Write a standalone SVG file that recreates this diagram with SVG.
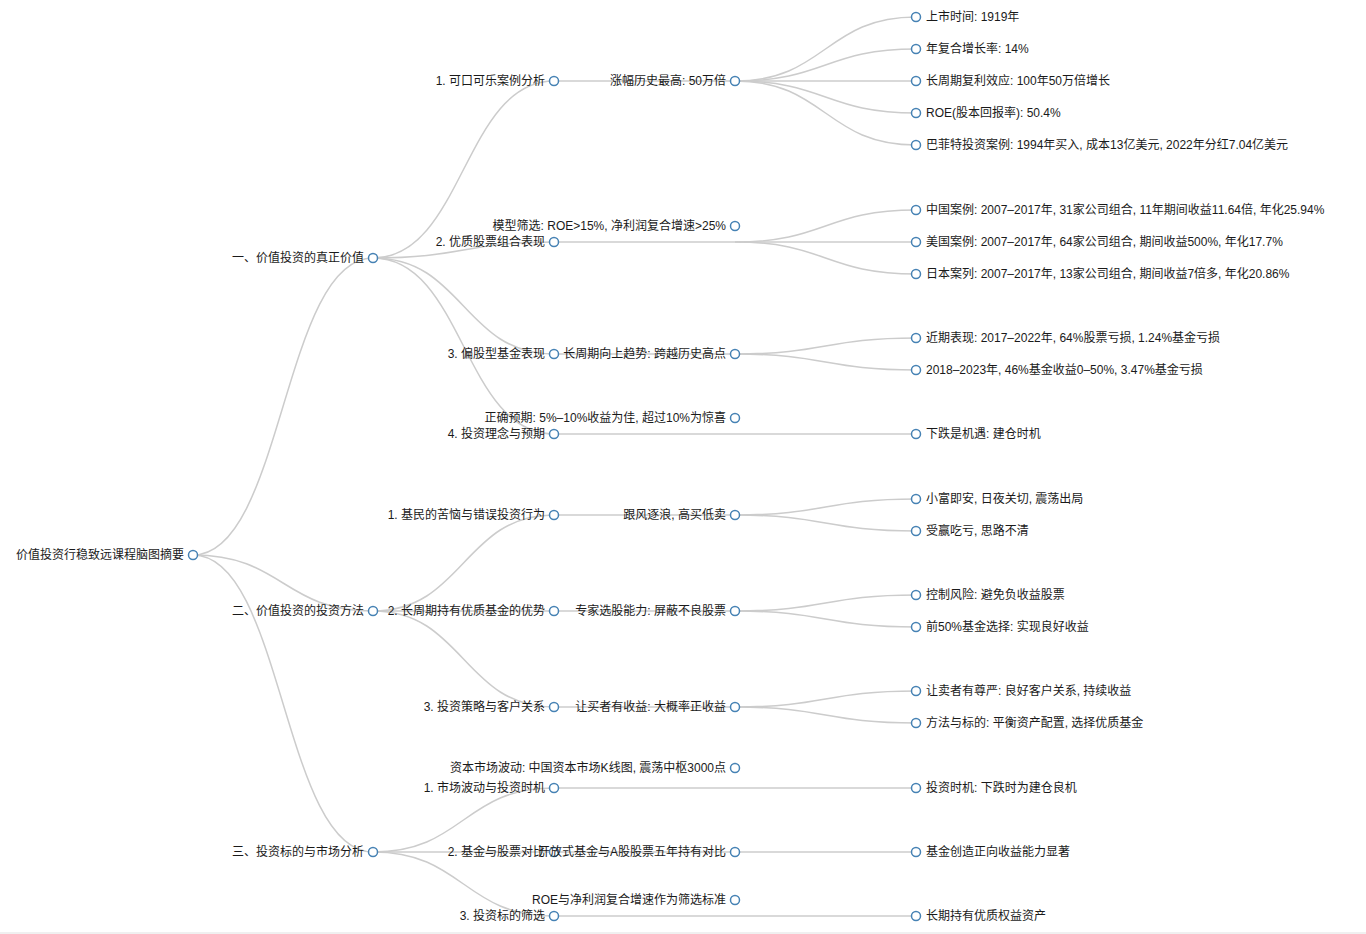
<svg xmlns="http://www.w3.org/2000/svg" width="1366" height="934" viewBox="0 0 1366 934">
<style>
.link{fill:none;stroke:#cccccc;stroke-width:1.5}
.node circle{fill:#ffffff;stroke:#4682b4;stroke-width:1.5}
.node text{font-family:"Liberation Sans","Noto Sans CJK SC",sans-serif;font-size:12px;fill:#1a1a1a}
.l{text-anchor:end}
.r{text-anchor:start}
</style>
<rect x="0" y="0" width="1366" height="934" fill="#ffffff"/>
<rect x="0" y="932" width="1366" height="2" fill="#f0f0f0"/>
<g id="links">
<path class="link" d="M193,555C283,555 283,258 373,258"/>
<path class="link" d="M193,555C283,555 283,611 373,611"/>
<path class="link" d="M193,555C283,555 283,852 373,852"/>
<path class="link" d="M373,258C463.5,258 463.5,81 554,81"/>
<path class="link" d="M373,258C463.5,258 463.5,242 554,242"/>
<path class="link" d="M373,258C463.5,258 463.5,354 554,354"/>
<path class="link" d="M373,258C463.5,258 463.5,434 554,434"/>
<path class="link" d="M373,611C463.5,611 463.5,515 554,515"/>
<path class="link" d="M373,611C463.5,611 463.5,611 554,611"/>
<path class="link" d="M373,611C463.5,611 463.5,707 554,707"/>
<path class="link" d="M373,852C463.5,852 463.5,788 554,788"/>
<path class="link" d="M373,852C463.5,852 463.5,852 554,852"/>
<path class="link" d="M373,852C463.5,852 463.5,916 554,916"/>
<path class="link" d="M554,81H735"/>
<path class="link" d="M554,242H735"/>
<path class="link" d="M554,354H735"/>
<path class="link" d="M554,434H735"/>
<path class="link" d="M554,515H735"/>
<path class="link" d="M554,611H735"/>
<path class="link" d="M554,707H735"/>
<path class="link" d="M554,788H735"/>
<path class="link" d="M554,852H735"/>
<path class="link" d="M554,916H735"/>
<path class="link" d="M735,81C825.5,81 825.5,17 916,17"/>
<path class="link" d="M735,81C825.5,81 825.5,49 916,49"/>
<path class="link" d="M735,81C825.5,81 825.5,81 916,81"/>
<path class="link" d="M735,81C825.5,81 825.5,113 916,113"/>
<path class="link" d="M735,81C825.5,81 825.5,145 916,145"/>
<path class="link" d="M735,242C825.5,242 825.5,210 916,210"/>
<path class="link" d="M735,242C825.5,242 825.5,242 916,242"/>
<path class="link" d="M735,242C825.5,242 825.5,274 916,274"/>
<path class="link" d="M735,354C825.5,354 825.5,338 916,338"/>
<path class="link" d="M735,354C825.5,354 825.5,370 916,370"/>
<path class="link" d="M735,434H916"/>
<path class="link" d="M735,515C825.5,515 825.5,499 916,499"/>
<path class="link" d="M735,515C825.5,515 825.5,531 916,531"/>
<path class="link" d="M735,611C825.5,611 825.5,595 916,595"/>
<path class="link" d="M735,611C825.5,611 825.5,627 916,627"/>
<path class="link" d="M735,707C825.5,707 825.5,691 916,691"/>
<path class="link" d="M735,707C825.5,707 825.5,723 916,723"/>
<path class="link" d="M735,788H916"/>
<path class="link" d="M735,852H916"/>
<path class="link" d="M735,916H916"/>
</g>
<g id="n-root" class="node"><circle cx="193" cy="555" r="4.5"/><text class="l" x="184" y="559">价值投资行稳致远课程脑图摘要</text></g>
<g id="n-1" class="node"><circle cx="373" cy="258" r="4.5"/><text class="l" x="364" y="262">一、价值投资的真正价值</text></g>
<g id="n-2" class="node"><circle cx="373" cy="611" r="4.5"/><text class="l" x="364" y="615">二、价值投资的投资方法</text></g>
<g id="n-3" class="node"><circle cx="373" cy="852" r="4.5"/><text class="l" x="364" y="856">三、投资标的与市场分析</text></g>
<g id="n-1-1" class="node"><circle cx="554" cy="81" r="4.5"/><text class="l" x="545" y="85">1. 可口可乐案例分析</text></g>
<g id="n-1-2" class="node"><circle cx="554" cy="242" r="4.5"/><text class="l" x="545" y="246">2. 优质股票组合表现</text></g>
<g id="n-1-3" class="node"><circle cx="554" cy="354" r="4.5"/><text class="l" x="545" y="358">3. 偏股型基金表现</text></g>
<g id="n-1-4" class="node"><circle cx="554" cy="434" r="4.5"/><text class="l" x="545" y="438">4. 投资理念与预期</text></g>
<g id="n-2-1" class="node"><circle cx="554" cy="515" r="4.5"/><text class="l" x="545" y="519">1. 基民的苦恼与错误投资行为</text></g>
<g id="n-2-2" class="node"><circle cx="554" cy="611" r="4.5"/><text class="l" x="545" y="615">2. 长周期持有优质基金的优势</text></g>
<g id="n-2-3" class="node"><circle cx="554" cy="707" r="4.5"/><text class="l" x="545" y="711">3. 投资策略与客户关系</text></g>
<g id="n-3-1" class="node"><circle cx="554" cy="788" r="4.5"/><text class="l" x="545" y="792">1. 市场波动与投资时机</text></g>
<g id="n-3-2" class="node"><circle cx="554" cy="852" r="4.5"/><text class="l" x="545" y="856">2. 基金与股票对比</text></g>
<g id="n-3-3" class="node"><circle cx="554" cy="916" r="4.5"/><text class="l" x="545" y="920">3. 投资标的筛选</text></g>
<g id="n-1-1-1" class="node"><circle cx="735" cy="81" r="4.5"/><text class="l" x="726" y="85">涨幅历史最高: 50万倍</text></g>
<g id="n-1-2-1" class="node"><circle cx="735" cy="226" r="4.5"/><text class="l" x="726" y="230">模型筛选: ROE&gt;15%, 净利润复合增速&gt;25%</text></g>
<g id="n-1-3-1" class="node"><circle cx="735" cy="354" r="4.5"/><text class="l" x="726" y="358">长周期向上趋势: 跨越历史高点</text></g>
<g id="n-1-4-1" class="node"><circle cx="735" cy="418" r="4.5"/><text class="l" x="726" y="422">正确预期: 5%–10%收益为佳, 超过10%为惊喜</text></g>
<g id="n-2-1-1" class="node"><circle cx="735" cy="515" r="4.5"/><text class="l" x="726" y="519">跟风逐浪, 高买低卖</text></g>
<g id="n-2-2-1" class="node"><circle cx="735" cy="611" r="4.5"/><text class="l" x="726" y="615">专家选股能力: 屏蔽不良股票</text></g>
<g id="n-2-3-1" class="node"><circle cx="735" cy="707" r="4.5"/><text class="l" x="726" y="711">让买者有收益: 大概率正收益</text></g>
<g id="n-3-1-1" class="node"><circle cx="735" cy="768" r="4.5"/><text class="l" x="726" y="772">资本市场波动: 中国资本市场K线图, 震荡中枢3000点</text></g>
<g id="n-3-2-1" class="node"><circle cx="735" cy="852" r="4.5"/><text class="l" x="726" y="856">开放式基金与A股股票五年持有对比</text></g>
<g id="n-3-3-1" class="node"><circle cx="735" cy="900" r="4.5"/><text class="l" x="726" y="904">ROE与净利润复合增速作为筛选标准</text></g>
<g id="n-l1" class="node"><circle cx="916" cy="17" r="4.5"/><text class="r" x="926" y="21">上市时间: 1919年</text></g>
<g id="n-l2" class="node"><circle cx="916" cy="49" r="4.5"/><text class="r" x="926" y="53">年复合增长率: 14%</text></g>
<g id="n-l3" class="node"><circle cx="916" cy="81" r="4.5"/><text class="r" x="926" y="85">长周期复利效应: 100年50万倍增长</text></g>
<g id="n-l4" class="node"><circle cx="916" cy="113" r="4.5"/><text class="r" x="926" y="117">ROE(股本回报率): 50.4%</text></g>
<g id="n-l5" class="node"><circle cx="916" cy="145" r="4.5"/><text class="r" x="926" y="149">巴菲特投资案例: 1994年买入, 成本13亿美元, 2022年分红7.04亿美元</text></g>
<g id="n-l6" class="node"><circle cx="916" cy="210" r="4.5"/><text class="r" x="926" y="214">中国案例: 2007–2017年, 31家公司组合, 11年期间收益11.64倍, 年化25.94%</text></g>
<g id="n-l7" class="node"><circle cx="916" cy="242" r="4.5"/><text class="r" x="926" y="246">美国案例: 2007–2017年, 64家公司组合, 期间收益500%, 年化17.7%</text></g>
<g id="n-l8" class="node"><circle cx="916" cy="274" r="4.5"/><text class="r" x="926" y="278">日本案列: 2007–2017年, 13家公司组合, 期间收益7倍多, 年化20.86%</text></g>
<g id="n-l9" class="node"><circle cx="916" cy="338" r="4.5"/><text class="r" x="926" y="342">近期表现: 2017–2022年, 64%股票亏损, 1.24%基金亏损</text></g>
<g id="n-l10" class="node"><circle cx="916" cy="370" r="4.5"/><text class="r" x="926" y="374">2018–2023年, 46%基金收益0–50%, 3.47%基金亏损</text></g>
<g id="n-l11" class="node"><circle cx="916" cy="434" r="4.5"/><text class="r" x="926" y="438">下跌是机遇: 建仓时机</text></g>
<g id="n-l12" class="node"><circle cx="916" cy="499" r="4.5"/><text class="r" x="926" y="503">小富即安, 日夜关切, 震荡出局</text></g>
<g id="n-l13" class="node"><circle cx="916" cy="531" r="4.5"/><text class="r" x="926" y="535">受赢吃亏, 思路不清</text></g>
<g id="n-l14" class="node"><circle cx="916" cy="595" r="4.5"/><text class="r" x="926" y="599">控制风险: 避免负收益股票</text></g>
<g id="n-l15" class="node"><circle cx="916" cy="627" r="4.5"/><text class="r" x="926" y="631">前50%基金选择: 实现良好收益</text></g>
<g id="n-l16" class="node"><circle cx="916" cy="691" r="4.5"/><text class="r" x="926" y="695">让卖者有尊严: 良好客户关系, 持续收益</text></g>
<g id="n-l17" class="node"><circle cx="916" cy="723" r="4.5"/><text class="r" x="926" y="727">方法与标的: 平衡资产配置, 选择优质基金</text></g>
<g id="n-l18" class="node"><circle cx="916" cy="788" r="4.5"/><text class="r" x="926" y="792">投资时机: 下跌时为建仓良机</text></g>
<g id="n-l19" class="node"><circle cx="916" cy="852" r="4.5"/><text class="r" x="926" y="856">基金创造正向收益能力显著</text></g>
<g id="n-l20" class="node"><circle cx="916" cy="916" r="4.5"/><text class="r" x="926" y="920">长期持有优质权益资产</text></g>
</svg>
